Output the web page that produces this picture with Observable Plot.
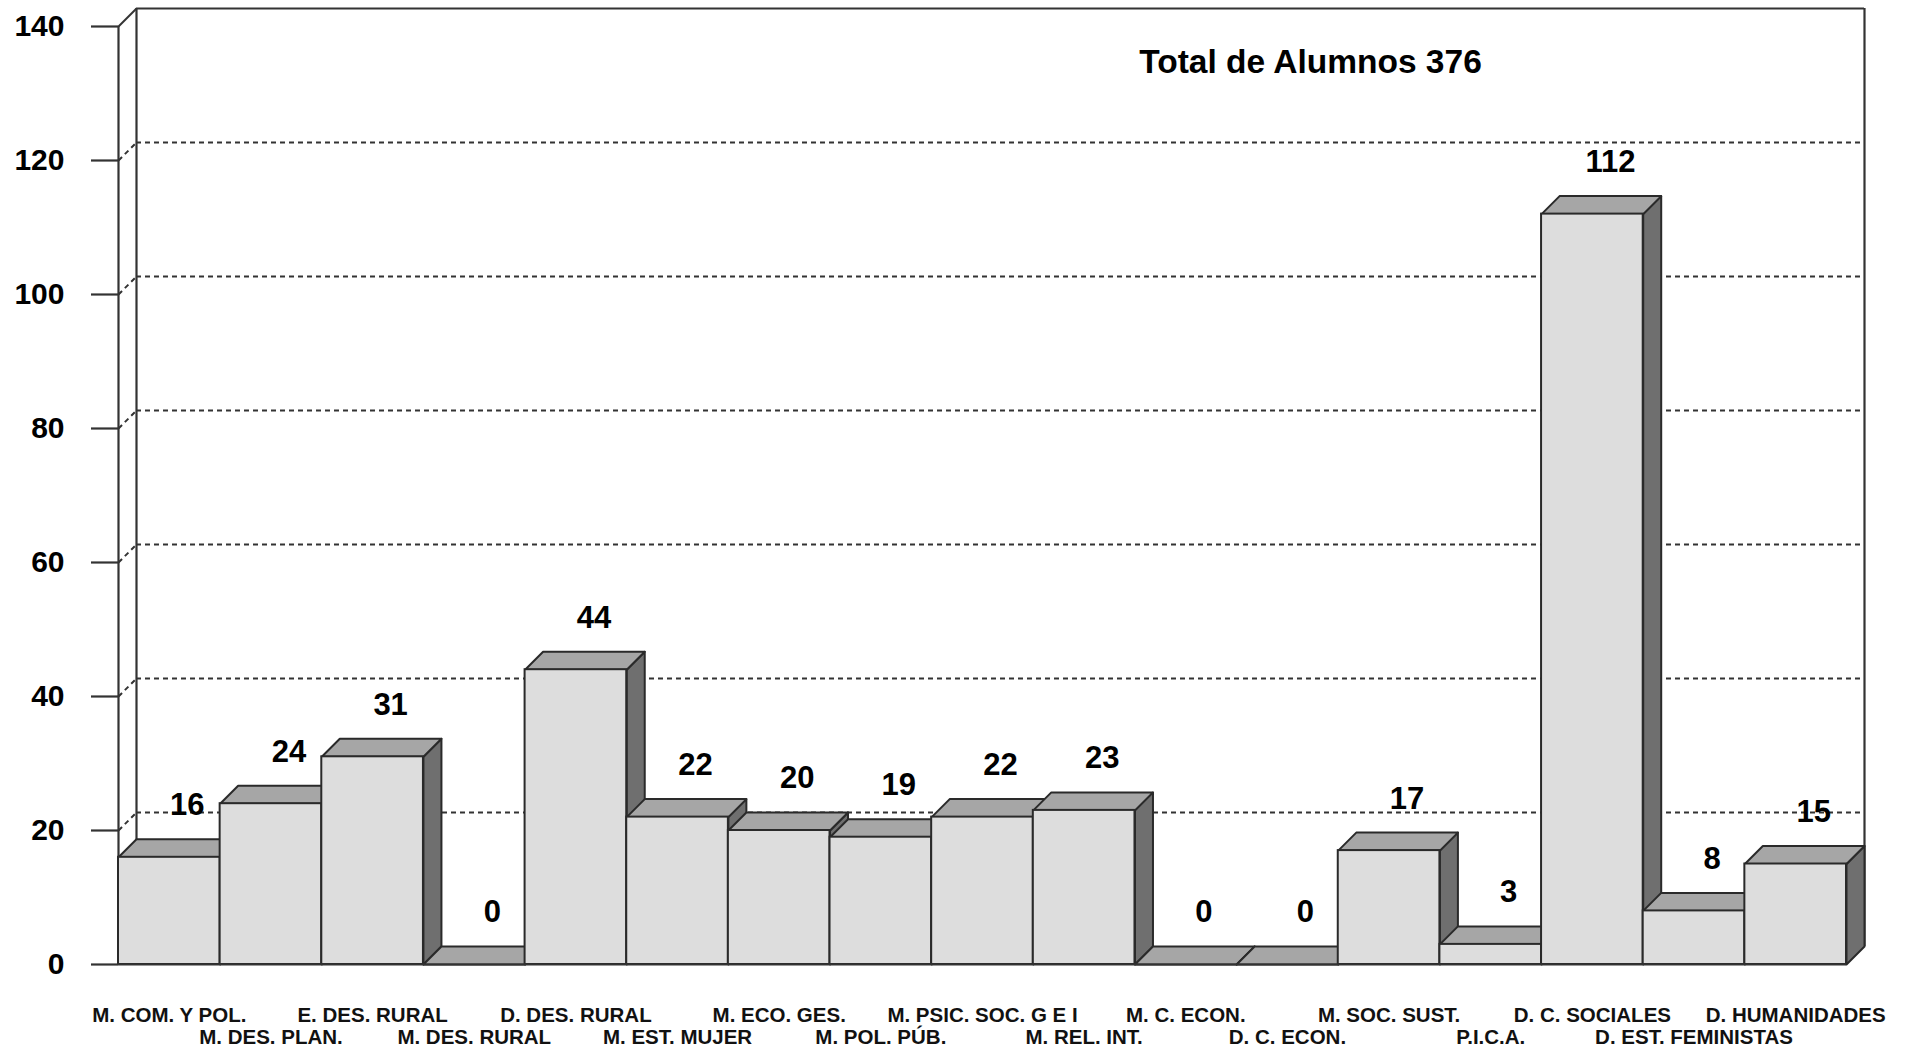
<!DOCTYPE html>
<html><head><meta charset="utf-8">
<script src="https://cdn.jsdelivr.net/npm/d3@7"></script>
<script src="https://cdn.jsdelivr.net/npm/@observablehq/plot@0.6"></script>
<style>html,body{margin:0;padding:0;background:#fff;overflow:hidden}</style>
</head><body><div id="chart"></div><script>
// ---- data ----
const categories = [
  "M. COM. Y POL.", "M. DES. PLAN.", "E. DES. RURAL", "M. DES. RURAL", "D. DES. RURAL",
  "M. EST. MUJER", "M. ECO. GES.", "M. POL. PÚB.", "M. PSIC. SOC. G E I", "M. REL. INT.",
  "M. C. ECON.", "D. C. ECON.", "M. SOC. SUST.", "P.I.C.A.", "D. C. SOCIALES",
  "D. EST. FEMINISTAS", "D. HUMANIDADES"
];
const values = [16, 24, 31, 0, 44, 22, 20, 19, 22, 23, 0, 0, 17, 3, 112, 8, 15];
const yTicks = [0, 20, 40, 60, 80, 100, 120, 140];
const gridValues = [20, 40, 60, 80, 100, 120];
const yMax = 140;
const title = "Total de Alumnos 376";

// ---- layout ----
const W = 1907, H = 1049, mL = 118, mR = 61, mT = 26, mB = 85;
const DEPTH = 18; // 3D depth in px
const n = categories.length;
const dX = DEPTH / ((W - mL - mR) / n);
const dY = DEPTH / ((H - mT - mB) / yMax);

const bars = categories.map((c, i) => ({i, c, v: values[i]}));
const tops = bars.flatMap(b => [
  {id: b.i, x: b.i, y: b.v}, {id: b.i, x: b.i + 1, y: b.v},
  {id: b.i, x: b.i + 1 + dX, y: b.v + dY}, {id: b.i, x: b.i + dX, y: b.v + dY}
]);
const sides = bars.flatMap(b => [
  {id: b.i, x: b.i + 1, y: 0}, {id: b.i, x: b.i + 1 + dX, y: dY},
  {id: b.i, x: b.i + 1 + dX, y: b.v + dY}, {id: b.i, x: b.i + 1, y: b.v}
]);
const idx = d3.range(n);
const row1 = idx.filter(i => i % 2 === 0).map(i => i + 0.5);
const row2 = idx.filter(i => i % 2 === 1).map(i => i + 0.5);

const LINE = "#333";
const OUT = "#2a2a2a";

const chart = Plot.plot({
  width: W, height: H,
  marginLeft: mL, marginRight: mR, marginTop: mT, marginBottom: mB,
  style: {fontFamily: "'Liberation Sans', Arial, sans-serif", color: "#000", background: "#fff"},
  x: {type: "linear", domain: [0, n]},
  y: {type: "linear", domain: [0, yMax]},
  marks: [
    // back-wall dashed gridlines and left-wall diagonals
    Plot.ruleY(gridValues, {y: d => d + dY, x1: dX, x2: n + dX, stroke: LINE, strokeWidth: 2, strokeDasharray: "5,4"}),
    Plot.link(gridValues, {x1: 0, y1: d => d, x2: dX, y2: d => d + dY, stroke: LINE, strokeWidth: 2, strokeDasharray: "5,4"}),
    // walls
    Plot.ruleX([dX, n + dX], {y1: dY, y2: yMax + dY, stroke: LINE, strokeWidth: 2.2}),
    Plot.ruleY([yMax + dY], {x1: dX, x2: n + dX, stroke: LINE, strokeWidth: 2.2}),
    Plot.link([yMax], {x1: 0, y1: d => d, x2: dX, y2: d => d + dY, stroke: LINE, strokeWidth: 2}),
    Plot.ruleX([0], {y1: 0, y2: yMax, stroke: LINE, strokeWidth: 2.2}),
    // 3D bars
    Plot.line(sides, {x: "x", y: "y", z: "id", fill: "#6f6f6f", stroke: OUT, strokeWidth: 2, curve: "linear-closed"}),
    Plot.line(tops, {x: "x", y: "y", z: "id", fill: "#a6a6a6", stroke: OUT, strokeWidth: 2, curve: "linear-closed"}),
    Plot.rect(bars, {x1: d => d.i, x2: d => d.i + 1, y1: 0, y2: d => d.v, fill: "#dddddd", stroke: OUT, strokeWidth: 2}),
    // baseline
    Plot.ruleY([0], {x1: 0, x2: n, stroke: LINE, strokeWidth: 2.2}),
    // axes
    Plot.axisY(yTicks, {anchor: "left", tickSize: 27, tickPadding: 27, fontSize: 30, fontWeight: "bold",
      stroke: LINE, strokeWidth: 2.2, fill: "#000", label: null, tickFormat: d => String(d)}),
    Plot.axisX(row1, {anchor: "bottom", tickSize: 0, tickPadding: 43, fontSize: 20.5, fontWeight: "bold",
      fill: "#111", label: null, tickFormat: d => categories[Math.floor(d)]}),
    Plot.axisX(row2, {anchor: "bottom", tickSize: 0, tickPadding: 65, fontSize: 20.5, fontWeight: "bold",
      fill: "#111", label: null, tickFormat: d => categories[Math.floor(d)]}),
    // value labels
    Plot.text(bars, {x: d => d.i + 0.5 + dX, y: d => d.v + dY, text: d => String(d.v), dy: -34,
      fontSize: 31, fontWeight: "bold", fill: "#000"}),
    // title
    Plot.text([title], {frameAnchor: "top", lineAnchor: "middle", dx: 328, dy: 36, fontSize: 33.5, fontWeight: "bold", fill: "#000"})
  ]
});
document.getElementById("chart").appendChild(chart);
</script></body></html>
